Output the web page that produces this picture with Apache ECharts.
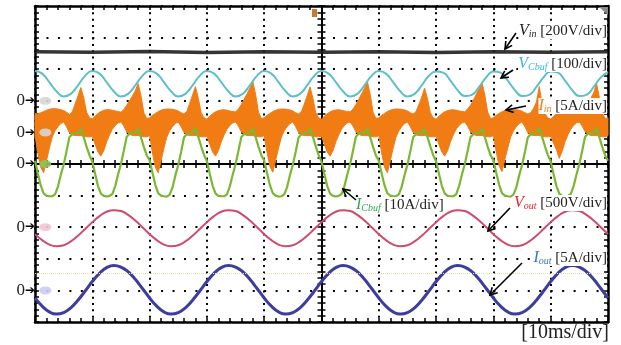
<!DOCTYPE html>
<html>
<head>
<meta charset="utf-8">
<script src="https://cdn.jsdelivr.net/npm/echarts@6/dist/echarts.min.js"></script>
<style>
html, body { margin: 0; padding: 0; background: #fff; }
#main { width: 621px; height: 345px; }
</style>
</head>
<body>
<div id="main"></div>
<script>
// all traces are read in screen divisions (10 x 10 grid), time in ms (10 ms/div, trigger at 0)
var zeroLevels = [2, 1, 0, -2, -4];
var refLevel = -3.46;

var vinStep = 10;
var vin = [3.55, 3.54, 3.56, 3.53, 3.55, 3.54, 3.55, 3.53, 3.55, 3.54, 3.55];

var vcbufStep = 1.25;
var vcbuf = [
  2.94, 2.86, 2.59, 2.30, 2.14, 2.22, 2.49, 2.79,
  2.94, 2.86, 2.59, 2.30, 2.14, 2.22, 2.49, 2.79,
  2.94, 2.86, 2.59, 2.30, 2.14, 2.22, 2.49, 2.79,
  2.94, 2.86, 2.59, 2.30, 2.14, 2.22, 2.49, 2.79,
  2.94, 2.86, 2.59, 2.30, 2.14, 2.22, 2.49, 2.79,
  2.94, 2.86, 2.59, 2.30, 2.14, 2.22, 2.49, 2.79,
  2.94, 2.86, 2.59, 2.30, 2.14, 2.22, 2.49, 2.79,
  2.93, 2.89, 2.64, 2.34, 2.15, 2.19, 2.44, 2.74,
  2.93, 2.89, 2.64, 2.34, 2.15, 2.19, 2.44, 2.74,
  2.93, 2.89, 2.64, 2.34, 2.15, 2.19, 2.44, 2.74,
  2.91
];

var sineStep = 1.25;
var vout = [
  -2.22, -2.41, -2.55, -2.60, -2.57, -2.45, -2.27, -2.06, -1.84, -1.65, -1.51, -1.46, -1.49, -1.61, -1.79, -2.00,
  -2.22, -2.41, -2.55, -2.60, -2.57, -2.45, -2.27, -2.06, -1.84, -1.65, -1.51, -1.46, -1.49, -1.61, -1.79, -2.00,
  -2.22, -2.41, -2.55, -2.60, -2.57, -2.45, -2.27, -2.06, -1.84, -1.65, -1.51, -1.46, -1.49, -1.61, -1.79, -2.00,
  -2.22, -2.41, -2.55, -2.60, -2.57, -2.45, -2.27, -2.06, -1.84, -1.65, -1.51, -1.46, -1.49, -1.61, -1.79, -2.00,
  -2.22, -2.41, -2.55, -2.60, -2.57, -2.45, -2.27, -2.06, -1.84, -1.65, -1.51, -1.46, -1.49, -1.61, -1.79, -2.00,
  -2.22
];
var iout = [
  -4.24, -4.50, -4.68, -4.75, -4.70, -4.55, -4.31, -4.02, -3.72, -3.46, -3.28, -3.21, -3.26, -3.41, -3.65, -3.94,
  -4.24, -4.50, -4.68, -4.75, -4.70, -4.55, -4.31, -4.02, -3.72, -3.46, -3.28, -3.21, -3.26, -3.41, -3.65, -3.94,
  -4.24, -4.50, -4.68, -4.75, -4.70, -4.55, -4.31, -4.02, -3.72, -3.46, -3.28, -3.21, -3.26, -3.41, -3.65, -3.94,
  -4.24, -4.50, -4.68, -4.75, -4.70, -4.55, -4.31, -4.02, -3.72, -3.46, -3.28, -3.21, -3.26, -3.41, -3.65, -3.94,
  -4.24, -4.50, -4.68, -4.75, -4.70, -4.55, -4.31, -4.02, -3.72, -3.46, -3.28, -3.21, -3.26, -3.41, -3.65, -3.94,
  -4.24
];

var fastStep = 0.5;
var icbuf = [
  0.10, -0.30, -0.68, -0.93, -1.00, -1.02, -1.02, -0.96, -0.72, -0.35, -0.02, 0.40, 0.85, 0.95, 0.97, 0.98, 1.12, 0.85, 0.55, 0.28,
  0.08, -0.32, -0.70, -0.94, -1.01, -1.03, -1.01, -0.95, -0.70, -0.33, 0.00, 0.42, 0.86, 0.96, 0.97, 0.99, 1.13, 0.84, 0.54, 0.27,
  0.12, -0.28, -0.66, -0.92, -1.00, -1.02, -1.03, -0.97, -0.74, -0.36, -0.03, 0.38, 0.84, 0.95, 0.96, 0.98, 1.14, 0.86, 0.56, 0.29,
  0.09, -0.31, -0.69, -0.93, -1.01, -1.02, -1.02, -0.96, -0.71, -0.34, -0.01, 0.41, 0.85, 0.94, 0.97, 0.99, 1.12, 0.85, 0.55, 0.28,
  0.11, -0.29, -0.67, -0.92, -1.00, -1.03, -1.02, -0.96, -0.73, -0.35, -0.02, 0.39, 0.84, 0.95, 0.97, 0.98, 1.13, 0.86, 0.56, 0.28,
  0.08, -0.32, -0.70, -0.94, -1.01, -1.03, -1.01, -0.95, -0.70, -0.33, 0.00, 0.42, 0.86, 0.96, 0.97, 0.99, 1.13, 0.84, 0.54, 0.27,
  0.10, -0.30, -0.68, -0.93, -1.00, -1.02, -1.02, -0.96, -0.72, -0.35, -0.02, 0.40, 0.85, 0.95, 0.97, 0.98, 1.12, 0.85, 0.55, 0.28,
  0.09, -0.31, -0.69, -0.93, -1.01, -1.02, -1.02, -0.96, -0.71, -0.34, -0.01, 0.41, 0.85, 0.94, 0.97, 0.99, 1.12, 0.85, 0.55, 0.28,
  0.12, -0.28, -0.66, -0.92, -1.00, -1.02, -1.03, -0.97, -0.74, -0.36, -0.03, 0.38, 0.84, 0.95, 0.96, 0.98, 1.14, 0.86, 0.56, 0.29,
  0.08, -0.32, -0.70, -0.94, -1.01, -1.03, -1.01, -0.95, -0.70, -0.33, 0.00, 0.42, 0.86, 0.96, 0.97, 0.99, 1.13, 0.84, 0.54, 0.27,
  0.10
];

// Iin is a switching band: upper and lower envelope
var iinUpper = [
  1.60, 1.58, 1.62, 1.66, 1.70, 1.73, 1.75, 1.75, 1.74, 1.72, 1.69, 1.64, 1.57, 1.64, 1.90, 2.15, 2.42, 2.10, 1.64, 1.47,
  1.42, 1.52, 1.60, 1.66, 1.70, 1.72, 1.72, 1.70, 1.68, 1.66, 1.64, 1.72, 1.86, 2.00, 2.15, 2.32, 2.55, 2.15, 1.62, 1.44,
  1.46, 1.54, 1.60, 1.66, 1.70, 1.73, 1.74, 1.74, 1.73, 1.71, 1.68, 1.62, 1.58, 1.66, 1.92, 2.18, 2.45, 2.08, 1.62, 1.46,
  1.42, 1.51, 1.59, 1.65, 1.69, 1.71, 1.72, 1.70, 1.68, 1.66, 1.65, 1.74, 1.88, 2.05, 2.22, 2.40, 2.62, 2.20, 1.64, 1.44,
  1.46, 1.54, 1.60, 1.66, 1.70, 1.73, 1.74, 1.74, 1.73, 1.71, 1.68, 1.62, 1.58, 1.66, 1.90, 2.16, 2.44, 2.08, 1.62, 1.46,
  1.42, 1.51, 1.59, 1.65, 1.69, 1.71, 1.72, 1.70, 1.68, 1.66, 1.65, 1.74, 1.88, 2.05, 2.22, 2.40, 2.62, 2.20, 1.64, 1.44,
  1.46, 1.54, 1.60, 1.66, 1.70, 1.73, 1.74, 1.74, 1.73, 1.71, 1.68, 1.62, 1.58, 1.66, 1.88, 2.12, 2.40, 2.06, 1.62, 1.46,
  1.42, 1.51, 1.59, 1.65, 1.69, 1.71, 1.72, 1.70, 1.68, 1.66, 1.65, 1.74, 1.86, 2.02, 2.20, 2.38, 2.58, 2.18, 1.64, 1.44,
  1.46, 1.54, 1.60, 1.65, 1.69, 1.72, 1.73, 1.73, 1.72, 1.70, 1.67, 1.62, 1.58, 1.62, 1.76, 1.95, 2.45, 1.90, 1.60, 1.46,
  1.42, 1.51, 1.59, 1.65, 1.69, 1.71, 1.72, 1.70, 1.68, 1.66, 1.64, 1.70, 1.80, 1.92, 2.08, 2.25, 2.55, 2.10, 1.62, 1.44,
  1.46
];
var iinLower = [
  0.90, 0.35, -0.10, -0.28, 0.10, 0.50, 0.85, 1.05, 1.18, 1.28, 1.33, 1.18, 1.00, 0.92, 0.90, 0.90, 0.90, 0.88, 0.86, 0.86,
  0.88, 0.62, 0.38, 0.25, 0.42, 0.70, 0.92, 1.10, 1.22, 1.30, 1.33, 1.20, 1.02, 0.94, 0.90, 0.90, 0.90, 0.88, 0.86, 0.86,
  0.90, 0.35, -0.10, -0.28, 0.10, 0.50, 0.85, 1.05, 1.18, 1.28, 1.33, 1.18, 1.00, 0.92, 0.90, 0.90, 0.90, 0.88, 0.86, 0.86,
  0.88, 0.62, 0.38, 0.25, 0.42, 0.70, 0.92, 1.10, 1.22, 1.30, 1.33, 1.20, 1.02, 0.94, 0.90, 0.90, 0.90, 0.88, 0.86, 0.86,
  0.90, 0.36, -0.08, -0.26, 0.12, 0.50, 0.85, 1.05, 1.18, 1.28, 1.33, 1.18, 1.00, 0.92, 0.90, 0.90, 0.90, 0.88, 0.86, 0.86,
  0.88, 0.62, 0.38, 0.25, 0.42, 0.70, 0.92, 1.10, 1.22, 1.30, 1.33, 1.20, 1.02, 0.94, 0.90, 0.90, 0.90, 0.88, 0.86, 0.86,
  0.90, 0.35, -0.10, -0.28, 0.10, 0.50, 0.85, 1.05, 1.18, 1.28, 1.33, 1.18, 1.00, 0.92, 0.90, 0.90, 0.90, 0.88, 0.86, 0.86,
  0.88, 0.62, 0.38, 0.25, 0.42, 0.70, 0.92, 1.10, 1.22, 1.30, 1.33, 1.20, 1.02, 0.94, 0.90, 0.90, 0.90, 0.88, 0.86, 0.86,
  0.90, 0.38, -0.06, -0.24, 0.14, 0.50, 0.85, 1.05, 1.18, 1.28, 1.33, 1.18, 1.00, 0.92, 0.90, 0.90, 0.90, 0.88, 0.86, 0.86,
  0.88, 0.66, 0.45, 0.18, 0.40, 0.70, 0.92, 1.10, 1.22, 1.30, 1.33, 1.20, 1.02, 0.94, 0.90, 0.90, 0.90, 0.88, 0.86, 0.86,
  0.90
];

var serif = '"Liberation Serif", "Times New Roman", serif';
var zeroColors = ['#d6d6d6', '#d6d6d6', '#8cc655', '#f2c4d4', '#c9ccf0'];

function pts(vals, step) {
  return vals.map(function (v, i) { return [-50 + i * step, v]; });
}

var tickStyle = { color: '#000', width: 1.5 };

function xAx(opt) {
  return Object.assign({
    type: 'value', min: -50, max: 50, interval: 10,
    axisLine: { onZero: false, lineStyle: { color: '#000', width: 2.5 } },
    axisTick: { show: true, inside: true, length: 4, lineStyle: tickStyle },
    minorTick: { show: true, splitNumber: 5, length: 4, lineStyle: tickStyle },
    axisLabel: { show: false },
    splitLine: { show: false }
  }, opt);
}
function yAx(opt) {
  return Object.assign({
    type: 'value', min: -5, max: 5, interval: 1,
    axisLine: { onZero: false, lineStyle: { color: '#000', width: 2.5 } },
    axisTick: { show: true, inside: true, length: 4, lineStyle: tickStyle },
    minorTick: { show: true, splitNumber: 5, length: 4, lineStyle: tickStyle },
    axisLabel: { show: false },
    splitLine: { show: false }
  }, opt);
}
var centerLine = { onZero: true, onZeroAxisIndex: 0, lineStyle: { color: '#000', width: 2 } };

function label(x, y, name, sub, color, unit, align) {
  return {
    type: 'text', x: x, y: y, z: 100,
    style: {
      text: '{n|' + name + '}{s|' + sub + '}{u| ' + unit + '}',
      align: align, verticalAlign: 'middle',
      textAlign: align, textVerticalAlign: 'middle',
      backgroundColor: '#fff',
      rich: {
        n: { fontFamily: serif, fontSize: 16, fontStyle: 'italic', fill: color },
        s: { fontFamily: serif, fontSize: 10, fontStyle: 'italic', fill: color, verticalAlign: 'bottom' },
        u: { fontFamily: serif, fontSize: 15, fill: '#222' }
      }
    }
  };
}

function arrow(x1, y1, x2, y2) {
  var a = Math.atan2(y2 - y1, x2 - x1), h = 8, w = 0.5;
  return [
    { type: 'line', z: 100, shape: { x1: x1, y1: y1, x2: x2, y2: y2 }, style: { stroke: '#000', lineWidth: 1.6 } },
    { type: 'polyline', z: 100, shape: { points: [
        [x2 - h * Math.cos(a - w), y2 - h * Math.sin(a - w)], [x2, y2],
        [x2 - h * Math.cos(a + w), y2 - h * Math.sin(a + w)]] },
      style: { stroke: '#000', lineWidth: 1.6, fill: null } }
  ];
}

// band polygon: upper envelope left->right, lower envelope right->left
function renderBand(params, api) {
  var top = iinUpper.map(function (v, i) { return api.coord([-50 + i * fastStep, v]); });
  var bot = iinLower.map(function (v, i) { return api.coord([-50 + i * fastStep, v]); }).reverse();
  return {
    type: 'polygon',
    shape: { points: top.concat(bot) },
    style: { fill: '#f27c14', stroke: '#f27c14', lineWidth: 1 }
  };
}

var graphics = [
  label(607, 31, 'V', 'in', '#222', '[200V/div]', 'right'),
  label(607, 64, 'V', 'Cbuf', '#3cb4e6', '[100/div]', 'right'),
  label(607, 106, 'I', 'in', '#f08020', '[5A/div]', 'right'),
  label(356, 205, 'I', 'Cbuf', '#33a852', '[10A/div]', 'left'),
  label(607, 203, 'V', 'out', '#e8202a', '[500V/div]', 'right'),
  label(607, 258, 'I', 'out', '#2f78c8', '[5A/div]', 'right'),
  { type: 'text', x: 609, y: 333, z: 100,
    style: { text: '[10ms/div]', font: '20px ' + serif, fill: '#222',
      align: 'right', verticalAlign: 'middle', textAlign: 'right', textVerticalAlign: 'middle' } },
  { type: 'rect', z: 100, shape: { x: 312, y: 9, width: 5, height: 8 }, style: { fill: '#c87a2a' } },
  { type: 'polygon', z: 100, shape: { points: [[599, 7], [608, 7], [608, 15]] }, style: { fill: '#8a8a8a' } }
]
  .concat(arrow(516, 33, 505, 49))
  .concat(arrow(513, 70, 501, 78))
  .concat(arrow(526, 106, 506, 110))
  .concat(arrow(356, 200, 343, 189))
  .concat(arrow(510, 208, 488, 231))
  .concat(arrow(522, 263, 490, 295));

var option = {
  animation: false,
  backgroundColor: '#fff',
  grid: { left: 35, right: 13, top: 6, bottom: 23, containLabel: false, outerBoundsMode: 'none' },
  xAxis: [
    xAx({ position: 'bottom',
      splitLine: { show: true, lineStyle: { color: '#000', width: 2, type: [2, 4.32] } } }),
    xAx({ position: 'top' }),
    xAx({ axisLine: centerLine }),
    xAx({ axisLine: centerLine, axisTick: { show: true, inside: false, length: 4, lineStyle: tickStyle } })
  ],
  yAxis: [
    yAx({ position: 'left',
      splitLine: { show: true, lineStyle: { color: '#000', width: 2, type: [2, 9.46] } },
      axisLabel: {
        show: true, margin: 0,
        formatter: function (v) { return zeroLevels.indexOf(v) >= 0 ? '{z|0}{a|➔}' : ''; },
        rich: {
          z: { fontFamily: serif, fontSize: 17, color: '#222' },
          a: { fontFamily: 'DejaVu Sans', fontSize: 12, color: '#000' }
        }
      } }),
    yAx({ position: 'right' }),
    yAx({ axisLine: centerLine }),
    yAx({ axisLine: centerLine, axisTick: { show: true, inside: false, length: 4, lineStyle: tickStyle } })
  ],
  series: [
    { name: 'Vin', type: 'line', symbol: 'none', data: pts(vin, vinStep),
      lineStyle: { color: '#1e1e1e', width: 3.5, opacity: 0.9 } },
    { name: 'VCbuf', type: 'line', symbol: 'none', smooth: true, data: pts(vcbuf, vcbufStep),
      lineStyle: { color: '#5cbfc9', width: 2 } },
    { name: 'Iin', type: 'custom', silent: true, data: [[0, 0]], renderItem: renderBand },
    { name: 'ICbuf', type: 'line', symbol: 'none', data: pts(icbuf, fastStep),
      lineStyle: { color: '#7ab832', width: 2.2 } },
    { name: 'Vout', type: 'line', symbol: 'none', smooth: true, data: pts(vout, sineStep),
      lineStyle: { color: '#cf4a6c', width: 2 } },
    { name: 'Iout', type: 'line', symbol: 'none', smooth: true, data: pts(iout, sineStep),
      lineStyle: { color: '#3c3d9c', width: 3 },
      markLine: { silent: true, symbol: 'none', label: { show: false },
        lineStyle: { color: '#e6dfb0', type: 'dotted', width: 1 },
        data: [{ yAxis: refLevel }] } },
    { name: 'zero', type: 'scatter', symbol: 'circle', symbolSize: [12, 8],
      data: zeroLevels.map(function (v) { return [-48.2, v]; }),
      itemStyle: { color: function (p) { return zeroColors[p.dataIndex]; }, opacity: 0.9 } }
  ],
  graphic: graphics
};

var myChart = echarts.init(document.getElementById('main'));
myChart.setOption(option);
</script>
</body>
</html>
